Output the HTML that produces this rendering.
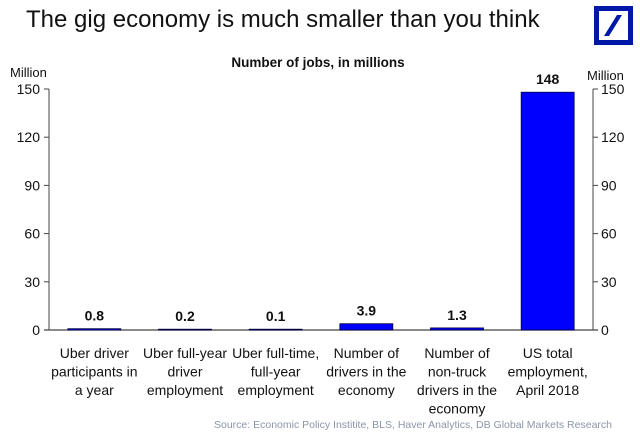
<!DOCTYPE html>
<html><head><meta charset="utf-8"><style>
body{margin:0;background:#fff;width:640px;height:437px;overflow:hidden;font-family:"Liberation Sans",sans-serif}
</style></head><body>
<svg width="640" height="437" viewBox="0 0 640 437" xmlns="http://www.w3.org/2000/svg" font-family="Liberation Sans, sans-serif">
<text x="26" y="27" font-size="24" fill="#111">The gig economy is much smaller than you think</text>
<g>
<rect x="596.5" y="8.5" width="34" height="34" fill="none" stroke="#0018a8" stroke-width="5"/>
<polygon points="604,36 609,36 622,15 617,15" fill="#0018a8"/>
</g>
<text x="318" y="67" font-size="13.5" font-weight="bold" text-anchor="middle" fill="#111">Number of jobs, in millions</text>
<text x="10" y="77" font-size="13" fill="#111">Million</text>
<text x="587" y="80" font-size="13" fill="#111">Million</text>
<g id="axes"></g>
<g id="bars"></g>
<text x="612" y="428" font-size="10.5" fill="#8a96a8" text-anchor="end">Source: Economic Policy Institite, BLS, Haver Analytics, DB Global Markets Research</text>
</svg>
<script>
const categories=[["Uber driver","participants in","a year"],["Uber full-year","driver","employment"],["Uber full-time,","full-year","employment"],["Number of","drivers in the","economy"],["Number of","non-truck","drivers in the","economy"],["US total","employment,","April 2018"]];
const values=[0.8,0.2,0.1,3.9,1.3,148];
const valueLabels=["0.8","0.2","0.1","3.9","1.3","148"];
const ticks=[0,30,60,90,120,150];
const NS="http://www.w3.org/2000/svg";
const X0=49,X1=593,Y0=330,Y150=89;
const y=v=>Y0-(v/150)*(Y0-Y150);
const band=(X1-X0)/categories.length;
const xc=i=>X0+band*(i+0.5);
function mk(t,a,p){const e=document.createElementNS(NS,t);for(const k in a)e.setAttribute(k,a[k]);p.appendChild(e);return e;}
const ax=document.getElementById('axes'),bg=document.getElementById('bars');
let e=mk('line',{x1:X0,y1:Y150,x2:X0,y2:Y0,stroke:'#444','stroke-width':1},ax);

e=mk('line',{x1:X1,y1:Y150,x2:X1,y2:Y0,stroke:'#444','stroke-width':1},ax);

e=mk('line',{x1:X0-5,y1:Y0,x2:X1+5,y2:Y0,stroke:'#444','stroke-width':1.2},ax);

ticks.forEach(t=>{
 mk('line',{x1:X0-5,y1:y(t),x2:X0,y2:y(t),stroke:'#444'},ax);
 mk('line',{x1:X1,y1:y(t),x2:X1+5,y2:y(t),stroke:'#444'},ax);
 let l=mk('text',{x:X0-9,y:y(t)+5,'font-size':14,'text-anchor':'end',fill:'#111'},ax);l.textContent=t;
 
 let r=mk('text',{x:X1+8,y:y(t)+5,'font-size':14,fill:'#111'},ax);r.textContent=t;
 
});
const bw=53;
values.forEach((v,i)=>{
 const h=Math.max(Y0-y(v),0.8);
 let r=mk('rect',{x:xc(i)-bw/2,y:Y0-h,width:bw,height:h,fill:'#0000ff',stroke:'#000040','stroke-width':0.8},bg);
 
 let t=mk('text',{x:xc(i),y:Y0-h-8,'font-size':14,'font-weight':'bold','text-anchor':'middle',fill:'#111'},bg);t.textContent=valueLabels[i];
 
 categories[i].forEach((s,j)=>{
  let c=mk('text',{x:xc(i),y:358+j*18.5,'font-size':14,'text-anchor':'middle',fill:'#111',textLength:undefined},bg);c.textContent=s;
  c.removeAttribute('textLength');
  
 });
});
</script>
</body></html>
